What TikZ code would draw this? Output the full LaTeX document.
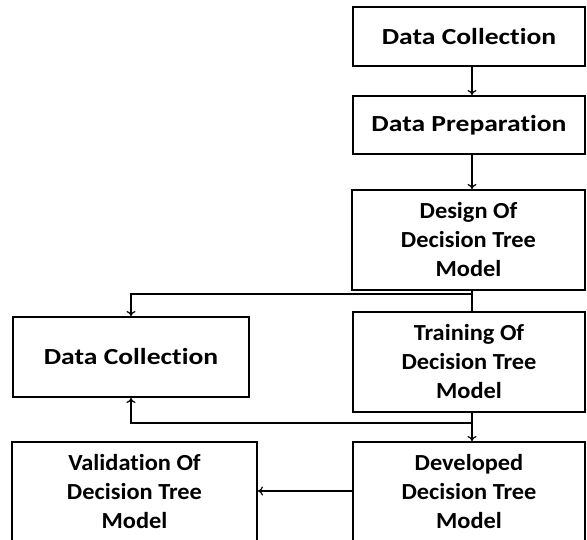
\documentclass[tikz,border=0pt]{standalone}
\usepackage{fontspec}
\setmainfont{Carlito}[Ligatures=NoCommon]
\newfontfamily\wideone{Carlito}[Ligatures=NoCommon,FakeStretch=1.2]
\newfontfamily\widetwo{Carlito}[Ligatures=NoCommon,FakeStretch=1.06]
\usetikzlibrary{arrows.meta,calc}
\begin{document}
\begin{tikzpicture}[x=1pt,y=-1pt,
  box/.style={draw=black,line width=2pt,fill=white,align=center,inner sep=0pt,
    font=\widetwo\fontsize{23}{29}\selectfont\bfseries},
  onebox/.style={box,font=\wideone\fontsize{23}{29}\selectfont\bfseries},
  conn/.style={draw=black,line width=1.8pt},
  arr/.style={conn,-{To[length=5pt,width=9pt,line width=1.2pt]}}]
\useasboundingbox (0,0) rectangle (587,539);
\clip (0,0) rectangle (587,539);
\fill[white] (0,0) rectangle (587,539);
\coordinate (xl) at (472,0);
\node[onebox,minimum width=232pt,minimum height=59pt] (b1) at (469,36.5) {Data Collection};
\node[onebox,minimum width=232pt,minimum height=58pt] (b2) at (469,125) {Data Preparation};
\node[box,minimum width=233pt,minimum height=100pt] (b3) at (468.5,240) {Design Of\\Decision Tree\\Model};
\node[box,minimum width=232pt,minimum height=100pt] (tr) at (469,362) {Training Of\\Decision Tree\\Model};
\node[onebox,minimum width=236pt,minimum height=80pt] (dc) at (131,357) {Data Collection};
\node[box,minimum width=232pt,minimum height=100pt] (dv) at (469,492) {Developed\\Decision Tree\\Model};
\node[box,minimum width=245pt,minimum height=100pt] (va) at (134.5,492) {Validation Of\\Decision Tree\\Model};
\coordinate (c1) at (472,294);
\coordinate (c2) at (472,423);
\draw[arr] (b1.south -| xl) -- (b2.north -| xl);
\draw[arr] (b2.south -| xl) -- (b3.north -| xl);
\draw[conn] (b3.south -| xl) -- (tr.north -| xl);
\draw[arr] (c1) -- (c1 -| dc.north) -- (dc.north);
\draw[arr] (tr.south -| xl) -- (dv.north -| xl);
\draw[arr] (c2) -- (c2 -| dc.south) -- (dc.south);
\draw[arr] (dv.west |- 0,491) -- (va.east |- 0,491);
\end{tikzpicture}
\end{document}
